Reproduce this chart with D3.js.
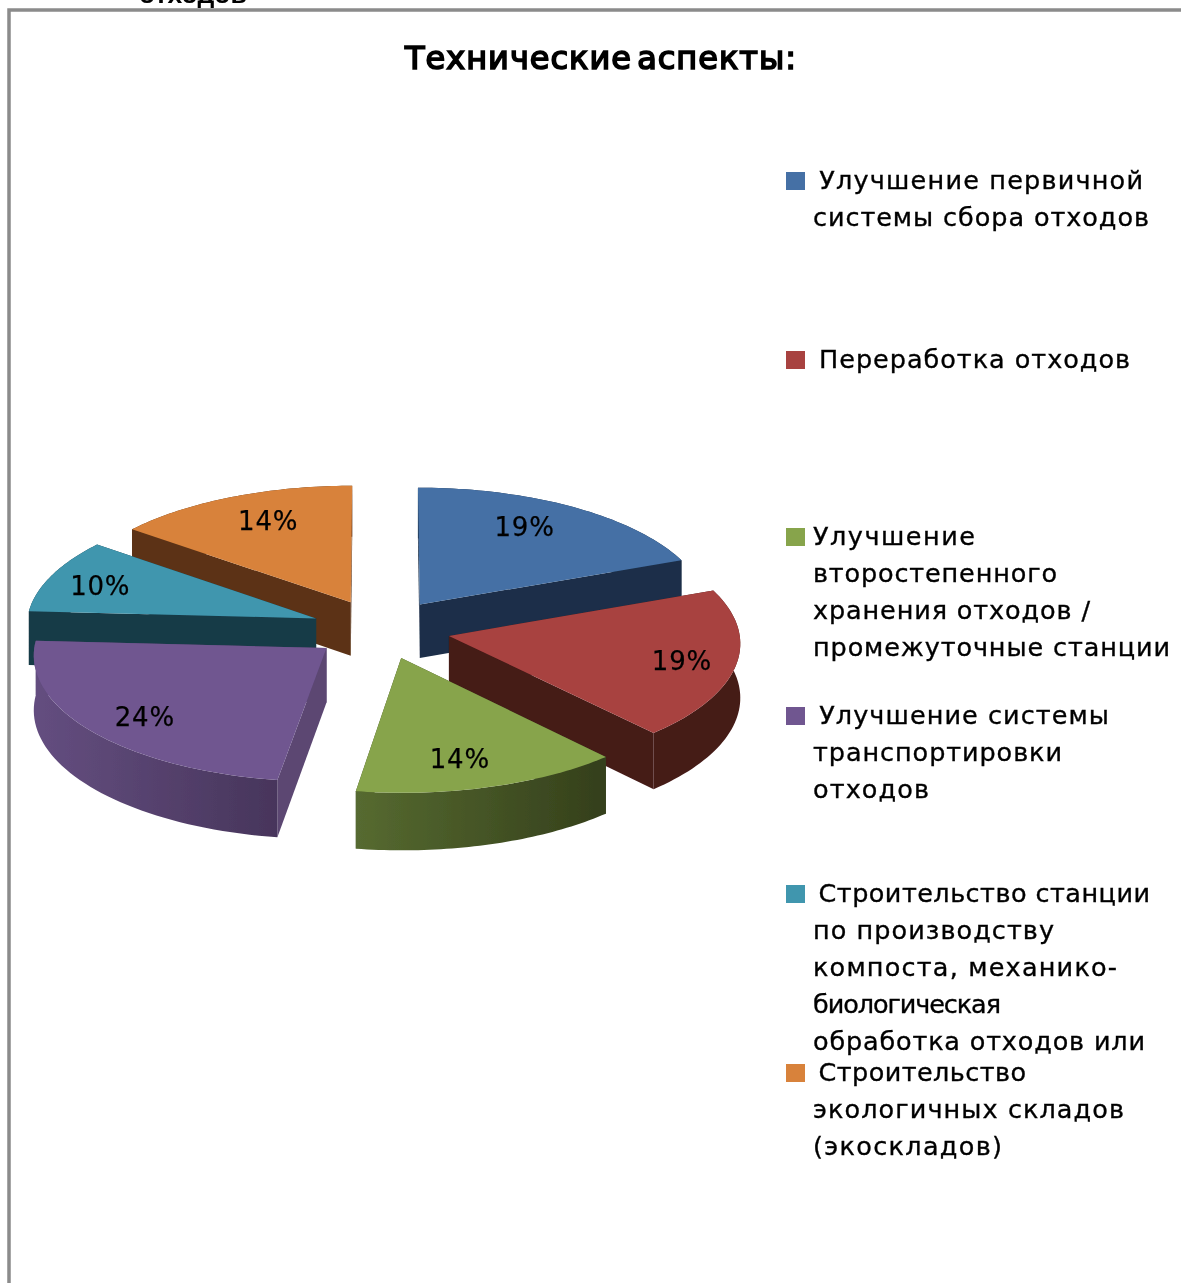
<!DOCTYPE html>
<html><head><meta charset="utf-8">
<script src="https://cdnjs.cloudflare.com/ajax/libs/d3/7.8.5/d3.min.js"></script>
<style>html,body{margin:0;padding:0;background:#fff;overflow:hidden}svg{display:block}text{white-space:pre}</style>
</head><body><svg id="c" width="1181" height="1283"></svg>
<script>
const categories=[
 [" Улучшение первичной","системы сбора отходов"],
 [" Переработка отходов"],
 ["Улучшение","второстепенного","хранения отходов /","промежуточные станции"],
 [" Улучшение системы","транспортировки","отходов"],
 [" Строительство станции","по производству","компоста, механико-","биологическая","обработка отходов или"],
 [" Строительство","экологичных складов","(экоскладов)"]
];
const values=[19,19.3,14.05,23.5,9.6,14.45];
const topColors=["#4470a5","#a84341","#87a44c","#6f5690","#3f96ae","#d8823b"];
const arcLeft=["#1b2e48","#451a18","#566a30","#644e80","#193a47","#5b3316"];
const arcRight=["#1b2e48","#451a18","#343f1b","#47355b","#193a47","#5b3316"];
const wallColors=["#1b2e48","#451a18","#3d4a20","#5b4672","#193a47","#5b3316"];
const drawOrder=[5,0,4,3,1,2];
const labelRadius=[.70,.82,.70,.82,.76,.70];
const labelNudge=[[-4,-8],[-2,1],[-3,12],[11,2],[-14,0],[2,-7]];
const legendBaselines=[190,369,546,725,903,1082];
const legendRightEdges=[[1143,1149],[1130],[975,1057,1090,1170],[1109,1062,929],[1150,1054,1117,1001,1145],[1026,1124,1002]];
const titleText="Технические аспекты:";

const svg=d3.select("#c");
const defs=svg.append("defs");
defs.append("filter").attr("id","soft").append("feGaussianBlur").attr("stdDeviation",.45);
const cx=381,cy=629,A=290,B=125,K=.05,EXPLODE=.24,DEPTH=54;
const project=(gx,gy,h)=>{const s=1/(1-K*gy);return [cx+A*gx*s,cy+B*gy*s+h*DEPTH*s];};
const line=d3.line();
const pie=d3.pie().sort(null).value(d=>d);
const arcs=pie(values);

// frame and clipped caption
svg.append("path").attr("d","M1181 10H9V1283").attr("fill","none").attr("stroke","#8b8b8b").attr("stroke-width",3.5);
svg.append("text").text("отходов").attr("x",139).attr("y",3).attr("font-family","Liberation Sans").attr("font-weight","bold").attr("font-size",26.5).attr("fill","#000").attr("filter","url(#soft)");
svg.append("text").text(titleText).attr("x",405).attr("y",69).attr("textLength",391).attr("lengthAdjust","spacing").attr("word-spacing",-6).attr("font-family","DejaVu Sans").attr("font-size",32).attr("fill","#000").attr("stroke","#000").attr("stroke-width",1.7).attr("filter","url(#soft)");

// pie
const pieG=svg.append("g").attr("filter","url(#soft)");
drawOrder.forEach(i=>{
  const a=arcs[i],mid=(a.startAngle+a.endAngle)/2;
  const ox=EXPLODE*Math.sin(mid),oy=-EXPLODE*Math.cos(mid);
  const pt=(ang,r)=>[ox+r*Math.sin(ang),oy-r*Math.cos(ang)];
  const n=48,angs=d3.range(n+1).map(k=>a.startAngle+(a.endAngle-a.startAngle)*k/n);
  const rim=angs.map(t=>pt(t,1));
  const P=(q,h)=>project(q[0],q[1],h);
  const g=pieG.append("g");
  const gid="g"+i;
  const lg=defs.append("linearGradient").attr("id",gid);
  lg.append("stop").attr("offset",0).attr("stop-color",arcLeft[i]);
  lg.append("stop").attr("offset",1).attr("stop-color",arcRight[i]);
  const apex=[ox,oy];
  [rim[0],rim[n]].sort((p,q)=>p[1]-q[1]).forEach(e=>{
    g.append("path").attr("d",line([P(apex,0),P(e,0),P(e,1),P(apex,1)])+"Z").attr("fill",wallColors[i]);
  });
  g.append("path").attr("d",line([...rim.map(q=>P(q,0)),...rim.slice().reverse().map(q=>P(q,1))])+"Z").attr("fill",`url(#${gid})`);
  g.append("path").attr("d",line([P(apex,0),...rim.map(q=>P(q,0))])+"Z").attr("fill",topColors[i]);
});
arcs.forEach((a,i)=>{
  const mid=(a.startAngle+a.endAngle)/2,r=labelRadius[i]+EXPLODE;
  const p=project(r*Math.sin(mid),-r*Math.cos(mid),0);
  svg.append("text").text(d3.format(".0f")(a.value)+"%").attr("x",p[0]+labelNudge[i][0]).attr("y",p[1]+9+labelNudge[i][1]).attr("text-anchor","middle")
    .attr("font-family","DejaVu Sans").attr("font-size",26).attr("letter-spacing",.8).attr("fill","#000").attr("stroke","#000").attr("stroke-width",.25).attr("filter","url(#soft)");
});

// legend
const leg=svg.append("g").attr("filter","url(#soft)");
categories.forEach((ls,i)=>{
  const b=legendBaselines[i];
  leg.append("rect").attr("x",786).attr("y",b-18).attr("width",19).attr("height",18).attr("fill",topColors[i]);
  ls.forEach((t,j)=>leg.append("text").text(t).attr("x",t.startsWith(" ")?810:813).attr("y",b-1+j*37).attr("textLength",legendRightEdges[i][j]-(t.startsWith(" ")?810:813)).attr("lengthAdjust","spacing").attr("font-family","DejaVu Sans").attr("font-size",25.5).attr("fill","#000").attr("stroke","#000").attr("stroke-width",.35));
});
</script></body></html>
